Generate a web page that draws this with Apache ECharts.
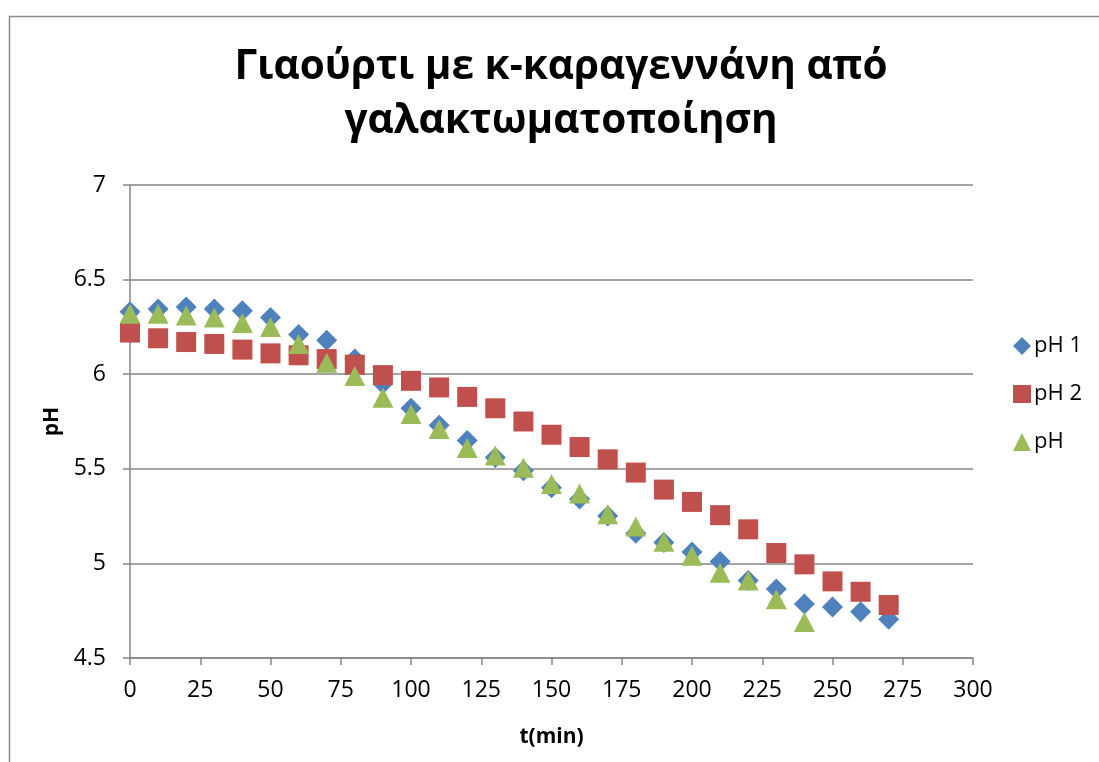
<!DOCTYPE html>
<html>
<head>
<meta charset="utf-8">
<script src="https://cdn.jsdelivr.net/npm/echarts@6/dist/echarts.min.js"></script>
<style>
  html, body { margin: 0; padding: 0; background: #fff; }
  #chart { width: 1099px; height: 762px; }
</style>
</head>
<body>
<div id="chart"></div>
<script>
// Time points (min)
const times = [0, 10, 20, 30, 40, 50, 60, 70, 80, 90, 100, 110, 120, 130, 140, 150, 160, 170, 180, 190, 200, 210, 220, 230, 240, 250, 260, 270];

// pH readings for the three runs
const ph1 = [6.33, 6.345, 6.355, 6.345, 6.335, 6.30, 6.21, 6.18, 6.08, 5.95, 5.82, 5.73, 5.65, 5.56, 5.49, 5.40, 5.34, 5.25, 5.16, 5.11, 5.06, 5.01, 4.91, 4.865, 4.785, 4.77, 4.745, 4.705];
const ph2 = [6.22, 6.19, 6.17, 6.16, 6.13, 6.11, 6.10, 6.08, 6.05, 5.995, 5.965, 5.93, 5.88, 5.82, 5.75, 5.68, 5.615, 5.55, 5.48, 5.39, 5.325, 5.255, 5.18, 5.055, 4.995, 4.905, 4.85, 4.78];
const ph3 = [6.32, 6.32, 6.31, 6.30, 6.27, 6.25, 6.16, 6.06, 5.99, 5.875, 5.79, 5.71, 5.61, 5.57, 5.505, 5.42, 5.37, 5.26, 5.195, 5.115, 5.04, 4.95, 4.91, 4.81, 4.69];

const seriesNames = ['pH 1', 'pH 2', 'pH'];
const titleLines = ['Γιαούρτι με κ-καραγεννάνη από', 'γαλακτωματοποίηση'];
const xAxisName = 't(min)';
const yAxisName = 'pH';

const pairs = (ys) => ys.map((v, i) => [times[i], v]);

const FONT = '"Open Sans", "Noto Sans", sans-serif';
const AXIS_GRAY = '#868686';

const chart = echarts.init(document.getElementById('chart'), null, { renderer: 'canvas' });

chart.setOption({
  animation: false,
  backgroundColor: '#ffffff',
  textStyle: { fontFamily: FONT },
  graphic: [{
    type: 'rect',
    shape: { x: 9.5, y: 16.5, width: 1200, height: 1000 },
    style: { fill: 'none', stroke: '#8c8c8c', lineWidth: 1.5 },
    silent: true
  }],
  title: {
    text: titleLines.join('\n'),
    left: 556,
    textAlign: 'center',
    top: 35,
    textStyle: {
      fontFamily: FONT,
      fontWeight: 'bold',
      fontSize: 40.5,
      lineHeight: 54,
      color: '#000'
    }
  },
  legend: {
    orient: 'vertical',
    left: 1008,
    top: 330,
    itemWidth: 18,
    itemHeight: 18,
    itemGap: 26,
    data: seriesNames,
    textStyle: { fontFamily: FONT, fontSize: 22, color: '#000', padding: [0, 0, 0, -2] }
  },
  grid: { left: 130, right: 126, top: 185, bottom: 104 },
  xAxis: {
    type: 'value',
    min: 0,
    max: 300,
    interval: 25,
    name: xAxisName,
    nameLocation: 'middle',
    nameGap: 69,
    nameTextStyle: { fontFamily: FONT, fontWeight: 'bold', fontSize: 21, color: '#000' },
    axisLine: { show: true, onZero: false, lineStyle: { color: AXIS_GRAY, width: 1.5 } },
    axisTick: { show: true, inside: false, length: 7, lineStyle: { color: AXIS_GRAY, width: 1.5 } },
    axisLabel: { fontFamily: FONT, fontSize: 23, color: '#000', margin: 21 },
    splitLine: { show: false }
  },
  yAxis: {
    type: 'value',
    min: 4.5,
    max: 7,
    interval: 0.5,
    name: yAxisName,
    nameLocation: 'middle',
    nameGap: 65,
    nameRotate: 90,
    nameTextStyle: { fontFamily: FONT, fontWeight: 'bold', fontSize: 21, color: '#000' },
    axisLine: { show: true, lineStyle: { color: AXIS_GRAY, width: 1.5 } },
    axisTick: { show: true, inside: false, length: 7, lineStyle: { color: AXIS_GRAY, width: 1.5 } },
    axisLabel: { fontFamily: FONT, fontSize: 23, color: '#000', margin: 24 },
    splitLine: { show: true, lineStyle: { color: AXIS_GRAY, width: 1.5 } }
  },
  series: [
    {
      name: seriesNames[0],
      type: 'scatter',
      symbol: 'diamond',
      symbolSize: [21, 21],
      itemStyle: { color: '#4F81BD', opacity: 1 },
      data: pairs(ph1)
    },
    {
      name: seriesNames[1],
      type: 'scatter',
      symbol: 'rect',
      symbolSize: [20, 20],
      itemStyle: { color: '#C0504D', opacity: 1 },
      data: pairs(ph2)
    },
    {
      name: seriesNames[2],
      type: 'scatter',
      symbol: 'triangle',
      symbolSize: [21, 20],
      itemStyle: { color: '#9BBB59', opacity: 1 },
      data: pairs(ph3)
    }
  ]
});
</script>
</body>
</html>
